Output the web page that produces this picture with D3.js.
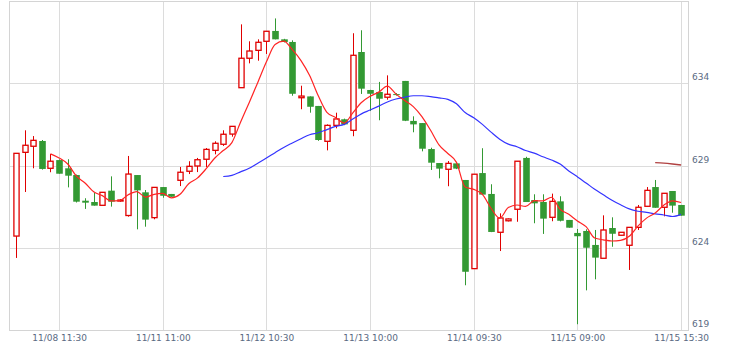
<!DOCTYPE html>
<html><head><meta charset="utf-8">
<script src="https://cdn.jsdelivr.net/npm/d3@7"></script>
<style>html,body{margin:0;padding:0;background:#fff;} svg{display:block;}</style>
</head><body><svg id="chart" width="735" height="359"></svg>
<script>
// ---- data ----
const openV = [624.71,629.80,630.17,630.49,628.83,629.33,628.83,628.42,626.86,626.78,
626.58,627.47,626.84,625.96,628.42,627.37,625.83,627.69,627.27,628.10,
628.65,628.97,629.38,629.92,630.29,630.91,633.73,635.52,636.00,636.55,
637.18,636.67,636.51,633.12,633.20,632.62,630.47,631.44,631.81,631.14,
635.90,633.59,633.47,633.15,633.34,634.14,631.71,631.58,630.00,629.15,
628.77,629.13,628.12,622.73,628.54,627.27,624.94,625.64,626.34,629.46,
626.90,626.78,625.85,626.82,625.69,624.90,625.02,624.17,623.36,625.20,
624.76,624.15,625.24,626.52,627.69,626.46,627.45,626.60];
const highV = [629.74,631.14,630.79,630.55,629.70,629.37,629.38,628.45,627.01,627.35,
627.37,628.34,626.95,629.58,628.42,627.51,627.67,627.69,627.27,628.91,
629.26,629.46,630.06,630.47,631.14,631.40,637.58,636.55,636.67,637.16,
637.94,636.70,636.61,633.85,633.20,632.62,631.50,632.21,631.85,637.04,
637.22,633.60,634.08,634.48,633.40,634.14,631.99,631.58,630.08,629.15,
629.27,629.13,628.12,628.47,630.05,627.86,626.09,625.78,629.26,629.53,
627.25,627.25,627.29,627.13,625.69,625.14,625.12,625.08,625.97,625.85,
624.94,625.24,626.60,627.69,628.12,627.31,627.45,626.60];
const lowV = [623.38,627.39,628.83,628.75,628.59,628.50,627.67,626.75,626.36,626.56,
626.58,626.50,626.80,625.89,625.12,625.28,625.73,627.04,627.10,627.75,
628.48,628.60,628.91,629.68,630.19,630.75,633.73,635.21,635.37,635.78,
636.67,636.48,633.24,632.42,632.21,630.50,629.92,631.26,631.45,630.78,
633.35,632.31,631.75,633.00,633.25,631.70,631.02,629.86,628.73,628.22,
627.74,628.78,621.72,622.73,627.20,624.95,623.80,625.60,625.58,626.78,
625.49,624.84,625.61,625.60,625.22,619.35,621.41,622.08,623.36,624.06,
624.74,622.65,625.08,626.50,626.43,625.91,626.13,625.95];
const closeV = [629.74,630.23,630.53,628.79,629.26,628.50,628.38,626.80,626.74,626.56,
627.37,626.80,626.90,628.48,627.49,625.71,627.67,627.16,627.10,628.59,
628.95,629.35,629.98,630.35,630.90,631.38,635.52,635.96,636.49,637.16,
636.67,636.51,633.36,633.22,632.57,630.55,631.44,631.83,631.50,635.70,
633.67,633.36,633.06,633.33,633.28,631.72,631.50,630.02,629.17,628.81,
629.13,628.81,622.54,628.47,627.23,624.96,625.81,625.75,629.26,626.78,
626.70,625.77,626.82,625.64,625.22,624.70,624.00,623.40,625.08,624.85,
624.94,625.24,626.46,627.49,626.43,627.31,626.56,625.95];

// moving-average lines (first bar index given by *Start)
const ma5Start = 4;
const ma5 = [629.71,629.46,629.09,628.35,627.94,627.40,627.17,626.85,626.87,627.22,
627.41,627.08,627.25,627.30,627.03,627.25,627.89,628.23,628.79,629.44,
629.91,630.39,631.63,632.82,634.05,635.30,636.36,636.56,636.04,635.38,
634.47,633.24,632.23,631.92,631.58,632.20,632.83,633.21,633.46,633.82,
633.34,632.95,632.58,631.97,631.14,630.24,629.73,629.19,627.69,627.55,
627.24,626.40,625.80,626.44,626.60,626.51,626.86,626.85,627.07,626.34,
626.03,625.63,625.28,624.59,624.48,624.41,624.45,624.70,625.31,625.80,
626.11,626.59,626.85,626.75];
const ma25Start = 24;
const ma25 = [628.33,628.40,628.61,628.83,629.14,629.45,629.78,630.10,630.37,630.63,
630.87,630.99,631.18,631.38,631.50,631.82,632.14,632.37,632.61,632.86,
633.04,633.15,633.24,633.24,633.19,633.11,633.02,632.75,632.22,631.90,
631.50,631.03,630.60,630.30,630.14,629.91,629.75,629.53,629.33,629.09,
628.67,628.31,627.94,627.55,627.22,626.89,626.61,626.36,626.22,626.15,
626.06,625.99,625.90,626.03];
const ma75Start = 74;
const ma75 = [629.17,629.14,629.09,629.03];

const xTickIdx = [5,17,29,41,53,65,77];
const xTickLabels = ["11/08 11:30","11/11 11:00","11/12 10:30","11/13 10:00","11/14 09:30","11/15 09:00","11/15 15:30"];
const yTicks = [619,624,629,634];

// ---- layout ----
const W = 735, H = 359;
const P = {left: 9, right: 688, top: 1, bottom: 330};
const x = d3.scaleLinear().domain([-0.8, 77.8]).range([P.left, P.right]);
const y = d3.scaleLinear().domain([619, 639]).range([P.bottom, P.top]);
const crisp = v => Math.round(v) + 0.5;

const UP = "#e00000", DOWN = "#339933";
const svg = d3.select("#chart");
svg.append("rect").attr("width", W).attr("height", H).attr("fill", "#fff");

// grid
const grid = svg.append("g").attr("stroke", "#dcdcdc").attr("stroke-width", 1);
grid.selectAll("line.h").data(yTicks.filter(v => v !== 619)).join("line")
  .attr("x1", P.left).attr("x2", P.right)
  .attr("y1", d => crisp(y(d))).attr("y2", d => crisp(y(d)));
grid.selectAll("line.v").data(xTickIdx).join("line")
  .attr("x1", d => crisp(x(d))).attr("x2", d => crisp(x(d)))
  .attr("y1", P.top).attr("y2", P.bottom);
// frame
svg.append("rect").attr("x", P.left + 0.5).attr("y", P.top + 0.5)
  .attr("width", P.right - P.left).attr("height", P.bottom - P.top)
  .attr("fill", "none").attr("stroke", "#d4d4d4");

// axes
const axisFont = "'DejaVu Sans', Verdana, sans-serif";
const yAxis = svg.append("g").attr("transform", `translate(${P.right},0)`)
  .call(d3.axisRight(y).tickValues(yTicks).tickSize(0).tickPadding(4).tickFormat(d3.format("d")));
yAxis.select(".domain").remove();
yAxis.selectAll("text").attr("dy", -3.5).attr("fill", "#5a6a82")
  .attr("font-family", axisFont).attr("font-size", 9);

const xAxis = svg.append("g").attr("transform", `translate(0,${P.bottom})`)
  .call(d3.axisBottom(x).tickValues(xTickIdx).tickSize(0).tickPadding(5)
    .tickFormat((d, i) => xTickLabels[i]));
xAxis.select(".domain").remove();
xAxis.selectAll("text").attr("fill", "#5a6a82")
  .attr("font-family", axisFont).attr("font-size", 9);

// candles
const bars = openV.map((o, i) => ({i, o, h: highV[i], l: lowV[i], c: closeV[i]}));
const cg = svg.append("g");
cg.selectAll("line.wick").data(bars).join("line")
  .attr("x1", d => crisp(x(d.i))).attr("x2", d => crisp(x(d.i)))
  .attr("y1", d => y(d.h)).attr("y2", d => y(d.l))
  .attr("stroke", d => d.c >= d.o ? UP : DOWN).attr("stroke-width", 1);
cg.selectAll("rect.body").data(bars).join("rect")
  .attr("x", d => d.c >= d.o ? crisp(x(d.i)) - 2.6 : crisp(x(d.i)) - 3.3)
  .attr("width", d => d.c >= d.o ? 5.2 : 6.6)
  .attr("y", d => y(Math.max(d.o, d.c)))
  .attr("height", d => Math.max(Math.abs(y(d.o) - y(d.c)), 1))
  .attr("fill", d => d.c >= d.o ? "#fff" : DOWN)
  .attr("stroke", d => d.c >= d.o ? UP : "none")
  .attr("stroke-width", 1.3);

// moving averages
function drawMA(vals, start, color, width) {
  const pts = vals.map((v, k) => [start + k, v]);
  svg.append("path").datum(pts)
    .attr("fill", "none").attr("stroke", color).attr("stroke-width", width)
    .attr("d", d3.line().x(d => x(d[0])).y(d => y(d[1])).curve(d3.curveMonotoneX));
}
drawMA(ma25, ma25Start, "#3434ff", 1.2);
drawMA(ma5, ma5Start, "#ff2424", 1.2);
drawMA(ma75, ma75Start, "#b04040", 1.3);
</script></body></html>
